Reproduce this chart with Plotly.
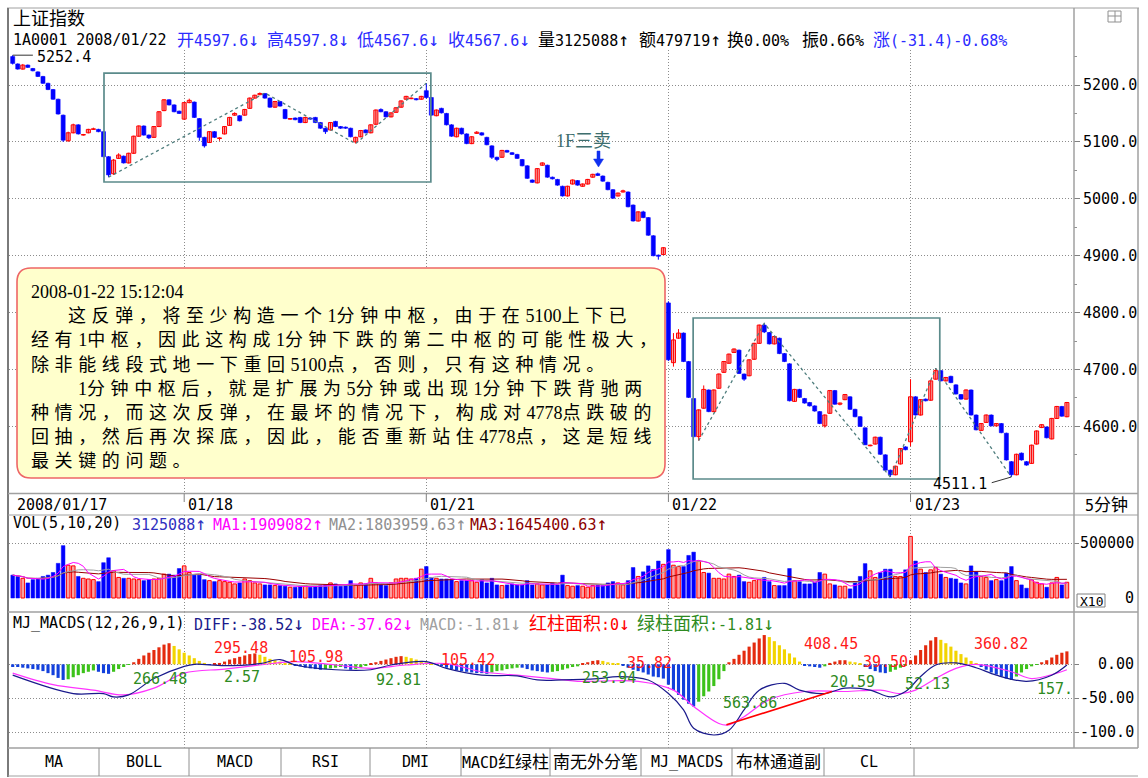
import re
import pandas as pd
import plotly.graph_objects as go

W, H = 1148, 778

# ------------------------------------------------------------------ data
day_labels = ["2008/01/17", "01/18", "01/21", "01/22", "01/23"]
day_start_idx = [0, 34, 82, 130, 178]
price_ticks = [4600, 4700, 4800, 4900, 5000, 5100, 5200]
price_tick_text = ["4600.0", "4700.0", "4800.0", "4900.0", "5000.0", "5100.0", "5200.0"]
price_minor_ticks = [4550, 4650, 4750, 4850, 4950, 5050, 5150, 5250]
vol_tick_text = ["500000", "0"]
vol_tick_vals = [500000, 0]
macd_tick_vals = [0, -50, -100]
macd_tick_text = ["0.00", "-50.00", "-100.0"]
tab_labels = ["MA", "BOLL", "MACD", "RSI", "DMI", "MACD红绿柱", "南无外分笔", "MJ_MACDS", "布林通道副", "CL"]

opens = [
    5250, 5237, 5228, 5235, 5229, 5223, 5215, 5203, 5192, 5175,
    5147, 5102, 5116, 5130, 5112, 5116, 5122, 5122, 5118, 5074,
    5044, 5071, 5075, 5063, 5080, 5110, 5128, 5112, 5108, 5127,
    5155, 5174, 5165, 5154, 5140, 5169, 5170, 5141, 5108, 5099,
    5118, 5106, 5114, 5129, 5147, 5146, 5147, 5159, 5177, 5183,
    5185, 5177, 5161, 5171, 5157, 5140, 5142, 5143, 5134, 5142,
    5143, 5134, 5124, 5121, 5136, 5127, 5126, 5124, 5100, 5109,
    5121, 5116, 5131, 5157, 5153, 5144, 5152, 5161, 5175, 5176,
    5176, 5175, 5190, 5178, 5146, 5159, 5150, 5130, 5109, 5124,
    5114, 5097, 5115, 5116, 5108, 5093, 5073, 5073, 5085, 5081,
    5078, 5069, 5058, 5033, 5028, 5059, 5059, 5038, 5034, 5022,
    5005, 5026, 5032, 5022, 5026, 5038, 5044, 5040, 5029, 5016,
    5005, 5012, 5012, 4989, 4961, 4977, 4967, 4935, 4901, 4902,
    4817, 4712, 4755, 4764, 4714, 4649, 4582, 4632, 4664, 4626,
    4667, 4695, 4711, 4730, 4734, 4692, 4689, 4718, 4746, 4778,
    4765, 4745, 4755, 4728, 4710, 4644, 4665, 4649, 4642, 4636,
    4626, 4601, 4623, 4663, 4639, 4647, 4652, 4630, 4617, 4597.6,
    4566, 4569, 4581, 4550, 4523, 4515, 4534, 4564, 4573, 4652,
    4620, 4648, 4646, 4683, 4698, 4680, 4688, 4673, 4656, 4648,
    4664, 4620, 4593, 4607, 4620, 4601, 4605, 4588, 4538, 4515,
    4553, 4538, 4535, 4569, 4598, 4599, 4578, 4614, 4635, 4617,
]
highs = [
    5252.4, 5238, 5237, 5236, 5230, 5224, 5216, 5204, 5193, 5176,
    5148, 5118, 5132, 5131, 5114, 5123, 5125, 5123, 5119, 5075,
    5070, 5080, 5076, 5081, 5111, 5129, 5129, 5113, 5128, 5154,
    5175, 5175, 5166, 5155, 5170, 5176, 5171, 5142, 5109, 5119,
    5119, 5108, 5128, 5144, 5152, 5147, 5158, 5178, 5183, 5187,
    5186, 5178, 5172, 5172, 5158, 5142, 5143, 5144, 5144, 5143,
    5144, 5135, 5125, 5135, 5137, 5128, 5127, 5125, 5109, 5121,
    5122, 5131, 5157, 5159, 5154, 5152, 5161, 5173, 5181, 5178,
    5177, 5181, 5203, 5179, 5157, 5160, 5151, 5131, 5125, 5125,
    5115, 5110, 5119, 5117, 5109, 5094, 5074, 5086, 5086, 5082,
    5079, 5070, 5059, 5034, 5054, 5064, 5060, 5039, 5035, 5023,
    5023, 5034, 5033, 5027, 5035, 5044, 5046, 5041, 5030, 5017,
    5011, 5016, 5013, 4990, 4978, 4979, 4968, 4936, 4902, 4915,
    4820, 4764, 4771, 4765, 4715, 4650, 4630, 4672, 4665, 4665,
    4693, 4715, 4728, 4737, 4735, 4693, 4718, 4747, 4779, 4781,
    4766, 4759, 4756, 4729, 4711, 4666, 4666, 4650, 4643, 4637,
    4627, 4621, 4664, 4664, 4642, 4657, 4653, 4631, 4618, 4597.8,
    4568, 4582, 4582, 4551, 4524, 4531, 4562, 4565, 4683, 4653,
    4648, 4649, 4681, 4702, 4699, 4687, 4689, 4674, 4657, 4665,
    4665, 4621, 4606, 4621, 4621, 4606, 4606, 4589, 4539, 4552,
    4554, 4539, 4568, 4593, 4604, 4600, 4615, 4636, 4636, 4643,
]
lows = [
    5236, 5227, 5227, 5230, 5224, 5214, 5202, 5191, 5174, 5148,
    5100, 5100, 5115, 5113, 5111, 5115, 5121, 5117, 5073, 5038,
    5042, 5070, 5062, 5062, 5079, 5109, 5111, 5105, 5107, 5126,
    5154, 5164, 5152, 5149, 5139, 5168, 5142, 5102, 5090, 5098,
    5107, 5102, 5113, 5128, 5146, 5136, 5146, 5158, 5176, 5182,
    5176, 5160, 5160, 5162, 5140, 5139, 5138, 5133, 5133, 5139,
    5133, 5123, 5114, 5120, 5126, 5123, 5123, 5108, 5097, 5108,
    5115, 5115, 5130, 5152, 5143, 5143, 5151, 5160, 5174, 5175,
    5173, 5174, 5176, 5146, 5145, 5150, 5129, 5109, 5108, 5113,
    5096, 5096, 5114, 5111, 5094, 5070, 5066, 5072, 5081, 5077,
    5070, 5057, 5035, 5028, 5027, 5058, 5037, 5034, 5023, 5004,
    5004, 5025, 5023, 5021, 5025, 5037, 5040, 5030, 5015, 5000,
    5004, 5011, 4985, 4960, 4960, 4966, 4935, 4899, 4893, 4901,
    4715, 4705, 4754, 4713, 4650, 4580, 4575, 4631, 4625, 4625,
    4666, 4694, 4710, 4729, 4692, 4680, 4688, 4717, 4745, 4764,
    4744, 4744, 4727, 4713, 4644, 4643, 4650, 4640, 4635, 4626,
    4604, 4598, 4622, 4638, 4637, 4646, 4629, 4616, 4599, 4567.6,
    4565, 4568, 4550, 4522, 4511, 4514, 4533, 4558, 4565, 4619,
    4619, 4644, 4645, 4682, 4679, 4679, 4676, 4656, 4647, 4647,
    4619, 4593, 4592, 4606, 4600, 4600, 4588, 4540, 4511.1, 4514,
    4540, 4531, 4534, 4568, 4597, 4579, 4577, 4613, 4617, 4616,
]
closes = [
    5238, 5228, 5235, 5231, 5225, 5215, 5203, 5192, 5175, 5149,
    5103, 5116, 5130, 5114, 5113, 5122, 5123, 5118, 5074, 5042,
    5068, 5077, 5063, 5080, 5110, 5128, 5112, 5107, 5127, 5153,
    5174, 5165, 5153, 5150, 5169, 5173, 5143, 5108, 5093, 5118,
    5108, 5107, 5127, 5143, 5150, 5137, 5157, 5177, 5182, 5185,
    5177, 5161, 5171, 5163, 5141, 5141, 5139, 5134, 5143, 5140,
    5134, 5124, 5118, 5134, 5127, 5124, 5124, 5109, 5108, 5120,
    5116, 5130, 5156, 5153, 5144, 5151, 5160, 5172, 5180, 5177,
    5174, 5180, 5178, 5147, 5156, 5151, 5130, 5110, 5124, 5114,
    5097, 5109, 5117, 5112, 5095, 5073, 5069, 5085, 5082, 5078,
    5071, 5058, 5036, 5029, 5053, 5063, 5038, 5035, 5024, 5005,
    5022, 5033, 5024, 5026, 5034, 5043, 5041, 5031, 5016, 5001,
    5010, 5014, 4986, 4961, 4977, 4967, 4936, 4900, 4899, 4914,
    4717, 4752, 4764, 4714, 4651, 4582, 4629, 4665, 4626, 4664,
    4692, 4714, 4727, 4736, 4693, 4683, 4717, 4746, 4778, 4766,
    4745, 4758, 4728, 4714, 4645, 4665, 4651, 4641, 4636, 4627,
    4605, 4620, 4663, 4639, 4641, 4656, 4630, 4617, 4600, 4567.6,
    4567, 4581, 4551, 4523, 4515, 4530, 4561, 4559, 4652, 4620,
    4647, 4645, 4680, 4698, 4680, 4686, 4677, 4657, 4648, 4664,
    4620, 4594, 4605, 4620, 4601, 4605, 4589, 4541, 4515, 4551,
    4541, 4532, 4567, 4592, 4603, 4580, 4614, 4635, 4618, 4642,
]
volumes = [
    208000, 196000, 179000, 137000, 167000, 179000, 196000, 208000, 232000, 315000,
    476000, 298000, 292000, 196000, 179000, 173000, 167000, 149000, 321000, 366000,
    247000, 187000, 179000, 179000, 173000, 167000, 158000, 167000, 173000, 179000,
    217000, 217000, 208000, 268000, 292000, 232000, 208000, 208000, 167000, 158000,
    149000, 158000, 149000, 143000, 128000, 137000, 173000, 158000, 137000, 128000,
    119000, 119000, 113000, 113000, 107000, 98000, 98000, 107000, 113000, 98000,
    107000, 113000, 119000, 137000, 128000, 107000, 113000, 158000, 113000, 137000,
    128000, 179000, 137000, 119000, 113000, 137000, 173000, 179000, 179000, 173000,
    179000, 262000, 286000, 187000, 179000, 173000, 173000, 167000, 149000, 158000,
    158000, 158000, 143000, 167000, 137000, 179000, 119000, 113000, 119000, 128000,
    119000, 119000, 158000, 119000, 128000, 119000, 119000, 137000, 119000, 208000,
    113000, 107000, 113000, 107000, 98000, 113000, 119000, 113000, 137000, 149000,
    137000, 119000, 158000, 277000, 196000, 238000, 292000, 260000, 336000, 306000,
    440000, 298000, 286000, 286000, 387000, 417000, 336000, 232000, 226000, 179000,
    179000, 173000, 217000, 196000, 208000, 149000, 143000, 158000, 167000, 187000,
    149000, 113000, 113000, 113000, 268000, 158000, 149000, 128000, 128000, 143000,
    232000, 217000, 128000, 119000, 107000, 107000, 83000, 149000, 196000, 312509,
    247000, 187000, 232000, 262000, 262000, 196000, 196000, 256000, 560000, 336000,
    262000, 232000, 256000, 277000, 217000, 187000, 179000, 173000, 137000, 128000,
    292000, 238000, 196000, 187000, 158000, 167000, 158000, 226000, 286000, 158000,
    119000, 89000, 167000, 143000, 128000, 98000, 137000, 187000, 119000, 143000,
]
macd_hist = [
    -4, -4, -5, -6, -7, -8, -10, -13, -16, -20,
    -23, -22, -19, -16, -13, -11, -9, -11, -13, -14,
    -11, -7, -4, -1, 3, 8, 13, 17, 21, 25,
    29, 31, 27, 22, 17, 13, 9, 5, 2, -1,
    1, 2, 4, 7, 9, 11, 13, 15, 16, 14,
    11, 8, 6, 4, 2, 1, -2, -3, -5, -6,
    -7, -8, -7, -6, -5, -4, -6, -8, -7, -5,
    -2, 1, 3, 5, 7, 9, 11, 12, 11, 9,
    7, 5, 3, 1, -1, -3, -5, -7, -9, -10,
    -11, -12, -13, -13, -14, -12, -10, -9, -7, -6,
    -5, -5, -7, -9, -10, -11, -12, -11, -10, -8,
    -6, -4, -3, 1, 3, 5, 6, 5, 3, 2,
    1, -2, -5, -8, -10, -12, -15, -18, -19, -21,
    -30, -38, -45, -52, -58, -62, -55, -47, -40, -32,
    -22, -10, 3, 8, 14, 20, 26, 32, 38, 43,
    40, 34, 28, 22, 16, 10, 4, -2, -3, -4,
    -5, -3, 2, 4, 6, 6, 4, 3, 1, -4,
    -7, -10, -12, -13, -11, -8, -5, -2, 6, 13,
    21, 28, 35, 40, 36, 31, 26, 20, 15, 10,
    5, 1, -4, -8, -12, -15, -18, -21, -23, -18,
    -12, -7, -3, -1, 3, 6, 10, 14, 17, 19,
]
diff_idx = [0, 12, 18, 20, 23, 28, 34, 36, 42, 49, 53, 56, 64, 71, 75, 82, 86, 93, 100, 104,
            109, 116, 120, 126, 130, 133, 135, 139, 142, 145, 148, 153, 156, 161, 165, 170,
            174, 177, 180, 183, 187, 191, 195, 201, 206, 209]
diff_val = [-16, -43, -43, -48, -45, -21, -3, 0, -2, 1, 7, -1, -8, -8, -1, 4, -6, -16, -17, -23,
            -23, -21, -18, -23, -43, -67, -94, -104, -97, -67, -38, -28, -38, -43, -35, -38,
            -48, -40, -18, -1, 2, -5, -16, -25, -16, -1]
dea_idx = [0, 8, 16, 22, 28, 34, 42, 49, 56, 64, 71, 78, 86, 93, 100, 107, 112, 124, 131, 135,
           140, 142, 145, 150, 157, 165, 172, 176, 179, 183, 187, 191, 198, 202, 207, 209]
dea_val = [-13, -30, -38, -45, -35, -13, -7, -1, 4, -1, -6, -1, 1, -11, -16, -21, -25, -25, -38, -62,
           -87, -89, -77, -52, -40, -40, -38, -43, -38, -21, -6, 0, -11, -21, -13, -8]
diverge_idx = [141.5, 162.4]
diverge_val = [-89, -40]

# segment strokes (dashed) and centre boxes on the price chart
stroke1_idx = [19, 50, 68, 82]
stroke1_val = [5038, 5186, 5097, 5203]
stroke2_idx = [136, 149, 174, 183, 198]
stroke2_val = [4575, 4781, 4511, 4702, 4511.1]
zs_x0 = [18.1, 134.9]
zs_x1 = [82.9, 183.8]
zs_low = [5029.5, 4507.6]
zs_high = [5221, 4790.5]

red_area_text = ["295.48", "105.98", "105.42", "35.82", "408.45", "39.50", "360.82"]
red_area_idx = [45.3, 60.1, 90.3, 126.2, 162.2, 173.1, 196.0]
red_area_val = [24, 11.2, 6.3, 1.9, 29.9, 3.4, 29.9]
green_area_text = ["266.48", "2.57", "92.81", "253.94", "563.86", "20.59", "52.13", "157."]
green_area_idx = [29.2, 45.5, 76.5, 118.2, 146.2, 166.5, 181.4, 206.6]
green_area_val = [-21.6, -18.2, -23.1, -20.1, -56.5, -25.6, -29.0, -36.3]

note_lines = [
    "2008-01-22 15:12:04",
    "这反弹，将至少构造一个1分钟中枢，由于在5100上下已",
    "经有1中枢，因此这构成1分钟下跌的第二中枢的可能性极大，",
    "除非能线段式地一下重回5100点，否则，只有这种情况。",
    "1分钟中枢后，就是扩展为5分钟或出现1分钟下跌背驰两",
    "种情况，而这次反弹，在最坏的情况下，构成对4778点跌破的",
    "回抽，然后再次探底，因此，能否重新站住4778点，这是短线",
    "最关键的问题。",
]
note_start_px = [29, 66, 29, 29, 76, 29, 29, 29]

# ------------------------------------------------------------------ geometry helpers
n = len(closes)
idx = list(range(n))


def X(px):
    return px / W


def Y(py):
    return 1 - py / H


PLOT_L, PLOT_R = 9, 1073
BAR_X0, BAR_DX = 12.7, 5.044
x_range = [(PLOT_L - BAR_X0) / BAR_DX, (PLOT_R - BAR_X0) / BAR_DX]


def price_at(py):
    return 5200 - (py - 85) / 0.569


def vol_at(py):
    return (598 - py) / 55 * 500000


def macd_at(py):
    return (664.3 - py) / 34 * 50


MONO = "DejaVu Sans Mono, Noto Sans CJK SC"
SERIF = "Liberation Serif, Noto Sans CJK SC"
GRID = "#8C8C8C"
GDASH = "1px,2px"
FRAME = "#A0A0A0"
RED_LINE, RED_FILL, BLUE = "#FF0000", "#F8A0A0", "#0000FF"

CJK_RE = re.compile(r"([\u2E80-\u9FFF\u3000-\u303F\uFF00-\uFFEF]+)")


def cjk(s, size=None, ls=None):
    out = []
    for p in CJK_RE.split(s):
        if not p:
            continue
        if CJK_RE.fullmatch(p):
            st = []
            if size:
                st.append(f"font-size:{size}px")
            if ls:
                st.append(f"letter-spacing:{ls}px")
            out.append(f'<span style="{";".join(st)}">{p}</span>')
        else:
            out.append(p)
    return "".join(out)


def arrows(s):
    for a in "↑↓":
        s = s.replace(a, f'<span style="font-size:18px">{a}</span>')
    return s


fig = go.Figure()

# ------------------------------------------------------------------ candles
up = [i for i in idx if closes[i] >= opens[i]]
dn = [i for i in idx if closes[i] < opens[i]]


def wicks(ids):
    xs, ys = [], []
    for i in ids:
        xs += [i, i, None]
        ys += [lows[i], highs[i], None]
    return xs, ys


for ids, col in ((up, RED_LINE), (dn, BLUE)):
    wx, wy = wicks(ids)
    fig.add_trace(go.Scatter(x=wx, y=wy, mode="lines", line=dict(color=col, width=1),
                             hoverinfo="skip", xaxis="x", yaxis="y"))

fig.add_trace(go.Bar(x=up, y=[closes[i] - opens[i] for i in up], base=[opens[i] for i in up],
                     width=0.8, marker=dict(color=RED_FILL, line=dict(color=RED_LINE, width=1)),
                     xaxis="x", yaxis="y"))
fig.add_trace(go.Bar(x=dn, y=[opens[i] - closes[i] for i in dn], base=[closes[i] for i in dn],
                     width=0.8, marker=dict(color=BLUE, line=dict(color=BLUE, width=0.6)),
                     xaxis="x", yaxis="y"))

# strokes
for sx, sy in ((stroke1_idx, stroke1_val), (stroke2_idx, stroke2_val)):
    fig.add_trace(go.Scatter(x=sx, y=sy, mode="lines",
                             line=dict(color="#4E7D7D", width=1.3, dash="3px,3px"),
                             xaxis="x", yaxis="y"))

# ------------------------------------------------------------------ volume
fig.add_trace(go.Bar(x=up, y=[volumes[i] for i in up], width=0.72,
                     marker=dict(color=RED_FILL, line=dict(color=RED_LINE, width=1)),
                     xaxis="x2", yaxis="y2"))
fig.add_trace(go.Bar(x=dn, y=[volumes[i] for i in dn], width=0.72,
                     marker=dict(color=BLUE, line=dict(color=BLUE, width=0.5)),
                     xaxis="x2", yaxis="y2"))
vs = pd.Series(volumes)
for win, col in ((20, "#9A0000"), (10, "#A0A0A0"), (5, "#FF00FF")):
    fig.add_trace(go.Scatter(x=idx, y=vs.rolling(win, min_periods=1).mean(), mode="lines",
                             line=dict(color=col, width=1), xaxis="x2", yaxis="y2"))

# ------------------------------------------------------------------ MACD
C_RED, C_YEL, C_BLU, C_GRN = "#E42A0E", "#F2D400", "#1240DC", "#3CC21A"
hist_colors = []
for i, v in enumerate(macd_hist):
    prev = macd_hist[i - 1] if i > 0 else 0
    if v >= 0:
        hist_colors.append(C_RED if v >= prev else C_YEL)
    else:
        hist_colors.append(C_BLU if v <= prev else C_GRN)
fig.add_trace(go.Bar(x=idx, y=macd_hist, width=0.62, marker=dict(color=hist_colors, line=dict(width=0)),
                     xaxis="x3", yaxis="y3"))
fig.add_trace(go.Scatter(x=dea_idx, y=dea_val, mode="lines", line=dict(color="#FF33FF", width=1.2, shape="spline"),
                         xaxis="x3", yaxis="y3"))
fig.add_trace(go.Scatter(x=diff_idx, y=diff_val, mode="lines", line=dict(color="#1A1A8C", width=1.2, shape="spline"),
                         xaxis="x3", yaxis="y3"))
fig.add_trace(go.Scatter(x=diverge_idx, y=diverge_val, mode="lines", line=dict(color="#FF0000", width=1.6),
                         xaxis="x3", yaxis="y3"))

# ------------------------------------------------------------------ axes
xcommon = dict(range=x_range, domain=[X(PLOT_L), X(PLOT_R)], showticklabels=False, ticks="",
               zeroline=False, showline=False, showgrid=True, tickmode="array",
               tickvals=day_start_idx[1:], gridcolor=GRID, griddash=GDASH, gridwidth=1, fixedrange=True)
layout = dict(
    width=W, height=H, margin=dict(l=0, r=0, t=0, b=0),
    paper_bgcolor="white", plot_bgcolor="white", showlegend=False, barmode="overlay",
    xaxis=dict(anchor="y", **xcommon),
    xaxis2=dict(anchor="y2", **xcommon),
    xaxis3=dict(anchor="y3", **xcommon),
    yaxis=dict(domain=[Y(493), Y(50)], range=[price_at(493), price_at(50)], anchor="x", side="right",
               tickmode="array", tickvals=price_ticks, ticktext=price_tick_text,
               tickfont=dict(family=MONO, size=15, color="black"), ticks="outside", ticklen=6,
               tickcolor="#808080", showgrid=True, gridcolor=GRID, griddash=GDASH, zeroline=False,
               showline=False, fixedrange=True,
               minor=dict(tickmode="array", tickvals=price_minor_ticks, ticks="outside", ticklen=3,
                          tickcolor="#909090", showgrid=False)),
    yaxis2=dict(domain=[Y(612), Y(515)], range=[vol_at(612), vol_at(515)], anchor="x2", side="right",
                tickmode="array", tickvals=[500000], showticklabels=False, ticks="outside", ticklen=5,
                tickcolor="#808080", showgrid=True, gridcolor=GRID, griddash=GDASH, zeroline=False,
                fixedrange=True),
    yaxis3=dict(domain=[Y(748), Y(612)], range=[macd_at(748), macd_at(612)], anchor="x3", side="right",
                tickmode="array", tickvals=macd_tick_vals, showticklabels=False, ticks="outside", ticklen=5,
                tickcolor="#808080", showgrid=True, gridcolor=GRID, griddash=GDASH, zeroline=False,
                fixedrange=True),
)

# ------------------------------------------------------------------ shapes
shapes = []


def pline(x0, y0, x1, y1, color=FRAME, width=1, layer="above"):
    shapes.append(dict(type="line", xref="paper", yref="paper", x0=X(x0), y0=Y(y0), x1=X(x1), y1=Y(y1),
                       line=dict(color=color, width=width), layer=layer))


pline(7, 8, 1139, 8)
pline(8, 8, 8, 777, color="#7A7A7A", width=2)
pline(1074, 8, 1074, 748, width=1.5)
pline(1138, 8, 1138, 748, width=1.5)
pline(8, 493.5, 1138, 493.5, width=1.5)
pline(8, 515, 1138, 515)
pline(8, 612, 1138, 612, width=1.5)
pline(8, 748, 1138, 748, width=1.5)
pline(8, 776, 1138, 776)
for sx in [99, 189, 281, 370, 461, 550, 641, 732, 824, 914]:
    pline(sx, 748, sx, 776, color="#909090")
for d in day_start_idx[1:]:
    dpx = BAR_X0 + BAR_DX * d
    pline(dpx, 493.5, dpx, 502, color="#808080")
# icon top-right
shapes.append(dict(type="rect", xref="paper", yref="paper", x0=X(1108), x1=X(1121), y0=Y(22), y1=Y(11),
                   line=dict(color="#909090", width=1)))
pline(1108, 16, 1121, 16, color="#909090")
pline(1115, 11, 1115, 22, color="#909090")
# X10 box
shapes.append(dict(type="rect", xref="paper", yref="paper", x0=X(1077), x1=X(1105), y0=Y(607), y1=Y(594),
                   line=dict(color="#808080", width=1)))

# centre boxes
for a, b, lo, hi in zip(zs_x0, zs_x1, zs_low, zs_high):
    shapes.append(dict(type="rect", xref="x", yref="y", x0=a, x1=b, y0=lo, y1=hi,
                       line=dict(color="#5B8B8B", width=1.7), fillcolor="rgba(0,0,0,0)", layer="above"))
# 5252.4 marker line and 4511.1 leader
shapes.append(dict(type="line", xref="x", yref="y", x0=0, x1=4.0, y0=5252.4, y1=5252.4,
                   line=dict(color="#333333", width=1)))
shapes.append(dict(type="line", xref="x", yref="y", x0=194.1, x1=198, y0=price_at(482.7), y1=4511.1,
                   line=dict(color="#333333", width=1)))

# note box (rounded)
bx0, bx1, by0, by1, r = 17, 665, 268, 478, 14


def P(px, py):
    return f"{X(px):.5f},{Y(py):.5f}"


path = (f"M {P(bx0 + r, by0)} L {P(bx1 - r, by0)} Q {P(bx1, by0)} {P(bx1, by0 + r)} "
        f"L {P(bx1, by1 - r)} Q {P(bx1, by1)} {P(bx1 - r, by1)} L {P(bx0 + r, by1)} "
        f"Q {P(bx0, by1)} {P(bx0, by1 - r)} L {P(bx0, by0 + r)} Q {P(bx0, by0)} {P(bx0 + r, by0)} Z")
shapes.append(dict(type="path", xref="paper", yref="paper", path=path, fillcolor="#FFFFCC",
                   line=dict(color="#EE6666", width=1.6), layer="above"))

# 1F arrow
shapes.append(dict(type="path", xref="paper", yref="paper",
                   path=f"M {P(597, 151)} L {P(600, 151)} L {P(600, 159)} L {P(603.5, 159)} L {P(598.5, 167)} "
                        f"L {P(593.5, 159)} L {P(597, 159)} Z",
                   fillcolor="#1030F0", line=dict(color="#1030F0", width=0.5), layer="above"))

layout["shapes"] = shapes

# ------------------------------------------------------------------ annotations
anns = []


def txt(s, px, py, color="black", size=15, family=MONO, xanchor="left", yanchor="middle"):
    anns.append(dict(text=s, x=X(px), y=Y(py), xref="paper", yref="paper", xanchor=xanchor,
                     yanchor=yanchor, showarrow=False, font=dict(family=family, size=size, color=color)))


txt(cjk("上证指数", 18), 11, 18)
HB = "#2B2BFF"
txt("1A0001 2008/01/22", 11, 40)
txt(cjk("开", 17) + arrows("4597.6↓"), 175, 40, HB)
txt(cjk("高", 17) + arrows("4597.8↓"), 264.5, 40, HB)
txt(cjk("低", 17) + arrows("4567.6↓"), 355, 40, HB)
txt(cjk("收", 17) + arrows("4567.6↓"), 446, 40, HB)
txt(cjk("量", 17) + arrows("3125088↑"), 536, 40)
txt(cjk("额", 17) + arrows("479719↑"), 637, 40)
txt(cjk("换", 17) + "0.00%", 725, 40)
txt(cjk("振", 17) + "0.66%", 800, 40)
txt(cjk("涨", 17) + "(-31.4)-0.68%", 871, 40, HB)

txt("5252.4", 35, 57)
txt("4511.1", 989, 484, xanchor="right")
txt(cjk("1F三卖", 18), 583, 141, "#3E6E6E", 18, SERIF, xanchor="center")

# date row
txt(day_labels[0], 15, 505)
for lab, d in zip(day_labels[1:], day_start_idx[1:]):
    txt(lab, BAR_X0 + BAR_DX * d + 2, 505)
txt("5" + cjk("分钟", 17), 1083, 505)

# volume header / axis
txt("VOL(5,10,20)", 11, 523)
txt(arrows("3125088↑"), 129.5, 523, "#3030C0")
txt(arrows("MA1:1909082↑"), 211, 523, "#FF00FF")
txt(arrows("MA2:1803959.63↑"), 327, 523, "#909090")
txt(arrows("MA3:1645400.63↑"), 468, 523, "#8B0000")
for t, v in zip(vol_tick_text, vol_tick_vals):
    txt(t, 1136, 598 - v / 500000 * 55, xanchor="right")
txt("X10", 1091, 601, size=13, xanchor="center")

# MACD header / axis
txt("MJ_MACDS(12,26,9,1)", 11, 623)
txt(arrows("DIFF:-38.52↓"), 192, 623, "#1A1A8C")
txt(arrows("DEA:-37.62↓"), 310, 623, "#FF00FF")
txt(arrows("MACD:-1.81↓"), 418, 623, "#A0A0A0")
txt(cjk("红柱面积", 18) + arrows(":0↓"), 527, 623, "#FF0000")
txt(cjk("绿柱面积", 18) + arrows(":-1.81↓"), 635, 623, "#2E8B22")
for t, v in zip(macd_tick_text, macd_tick_vals):
    txt(t, 1136, 664.3 - v * 34 / 50, xanchor="right")

for t, xi, yv in zip(red_area_text, red_area_idx, red_area_val):
    anns.append(dict(text=t, x=xi, y=yv, xref="x3", yref="y3", showarrow=False, xanchor="center",
                     font=dict(family=MONO, size=15, color="#FF1A1A")))
for t, xi, yv in zip(green_area_text, green_area_idx, green_area_val):
    anns.append(dict(text=t, x=xi, y=yv, xref="x3", yref="y3", showarrow=False, xanchor="center",
                     font=dict(family=MONO, size=15, color="#2E8B22")))

# tabs
tab_sep = [8, 99, 189, 281, 370, 461, 550, 641, 732, 824, 914]
for k, lab in enumerate(tab_labels):
    txt(cjk(lab, 17), (tab_sep[k] + tab_sep[k + 1]) / 2, 762, xanchor="center")

# note text
for k, (line, x0) in enumerate(zip(note_lines, note_start_px)):
    s = line if k == 0 else cjk(line, 18, 5.6)
    txt(s, x0, 292 + 24.2 * k, "black", 18, SERIF)

layout["annotations"] = anns
fig.update_layout(**layout)
fig.write_html("out.html", config={"displayModeBar": False},
               post_script="document.body.style.margin='0px';document.body.style.overflow='hidden';")
